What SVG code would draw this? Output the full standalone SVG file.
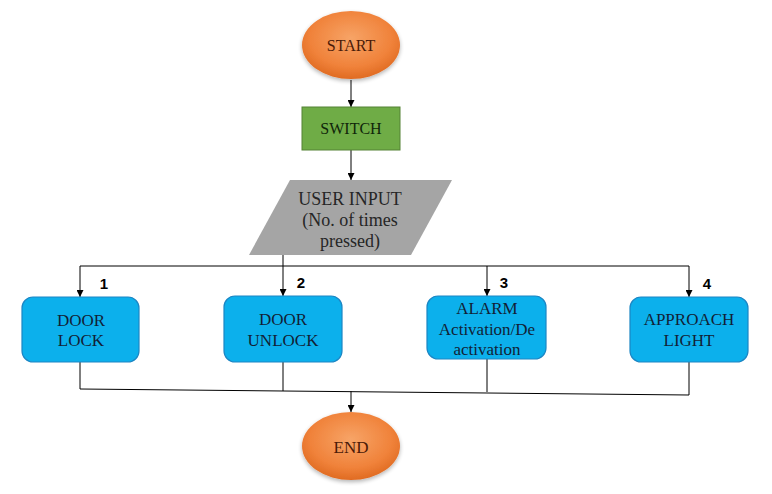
<svg xmlns="http://www.w3.org/2000/svg" width="772" height="494" viewBox="0 0 772 494">
<defs>
<radialGradient id="og" cx="50%" cy="40%" r="60%">
<stop offset="0%" stop-color="#f7a467"/>
<stop offset="70%" stop-color="#f0823a"/>
<stop offset="100%" stop-color="#e06b22"/>
</radialGradient>
<filter id="sh" x="-20%" y="-20%" width="140%" height="150%">
<feGaussianBlur in="SourceAlpha" stdDeviation="2"/>
<feOffset dx="0" dy="2" result="b"/>
<feComponentTransfer><feFuncA type="linear" slope="0.3"/></feComponentTransfer>
<feMerge><feMergeNode/><feMergeNode in="SourceGraphic"/></feMerge>
</filter>
<marker id="ah" viewBox="0 0 10 10" refX="10" refY="5" markerWidth="7" markerHeight="7" markerUnits="userSpaceOnUse" orient="auto">
<path d="M0,0 L10,5 L0,10 z" fill="#000"/>
</marker>
</defs>
<style>
.t{font-family:"Liberation Serif","Times New Roman",serif;text-anchor:middle;}
.box{fill:#0cb0ec;stroke:#1c86c4;stroke-width:1.2;}
.bt{font-size:17px;fill:#121f36;}
.num{font-family:"Liberation Sans",Arial,sans-serif;font-weight:bold;font-size:15px;fill:#000;text-anchor:middle;}
.ln{fill:none;stroke:#000;stroke-width:1;}
.ar{fill:none;stroke:#000;stroke-width:1;marker-end:url(#ah);}
</style>
<rect width="772" height="494" fill="#fff"/>
<g id="connectors">
<line class="ar" x1="351" y1="80" x2="351" y2="107"/>
<line class="ar" x1="351" y1="150" x2="351" y2="180"/>
<line class="ln" x1="80" y1="266" x2="689" y2="266" stroke="#555"/>
<line class="ar" x1="80" y1="266" x2="80" y2="297"/>
<line class="ar" x1="283" y1="255" x2="283" y2="296"/>
<line class="ar" x1="487" y1="266" x2="487" y2="296"/>
<line class="ar" x1="689" y1="266" x2="689" y2="297"/>
<line class="ln" x1="80" y1="362" x2="80" y2="389"/>
<line class="ln" x1="283" y1="362" x2="283" y2="391"/>
<line class="ln" x1="487" y1="359" x2="487" y2="392"/>
<line class="ln" x1="689" y1="362" x2="689" y2="395"/>
<line class="ln" x1="80" y1="389" x2="689" y2="395" stroke="#444"/>
<line class="ar" x1="351" y1="391" x2="351" y2="412"/>
<text class="num" x="104" y="289">1</text>
<text class="num" x="301" y="288">2</text>
<text class="num" x="504" y="288">3</text>
<text class="num" x="707" y="289">4</text>
</g>
<g id="start">
<ellipse cx="351" cy="45" rx="49" ry="34" fill="url(#og)" filter="url(#sh)"/>
<text class="t" x="351" y="51" font-size="16" fill="#4a1a08">START</text>
</g>
<g id="switch">
<rect x="302" y="107" width="98" height="43" fill="#6fac46" stroke="#548235" stroke-width="1"/>
<text class="t" x="351" y="134" font-size="16" fill="#10260a">SWITCH</text>
</g>
<g id="user-input">
<polygon points="290,180 452,180 411,255 249,255" fill="#a5a5a5"/>
<text class="t" x="350" y="205" font-size="18" fill="#262626">USER INPUT</text>
<text class="t" x="350" y="226" font-size="18" fill="#262626">(No. of times</text>
<text class="t" x="350" y="247" font-size="18" fill="#262626">pressed)</text>
</g>
<g id="door-lock">
<rect class="box" x="22" y="297" width="117" height="65" rx="11"/>
<text class="t bt" x="81" y="326">DOOR</text>
<text class="t bt" x="81" y="346">LOCK</text>
</g>
<g id="door-unlock">
<rect class="box" x="224" y="296" width="118" height="66" rx="11"/>
<text class="t bt" x="283" y="325">DOOR</text>
<text class="t bt" x="283" y="346">UNLOCK</text>
</g>
<g id="alarm">
<rect class="box" x="427" y="296" width="119" height="63" rx="11"/>
<text class="t bt" x="487" y="314">ALARM</text>
<text class="t bt" x="487" y="335">Activation/De</text>
<text class="t bt" x="487" y="355">activation</text>
</g>
<g id="approach-light">
<rect class="box" x="630" y="297" width="118" height="65" rx="11"/>
<text class="t bt" x="689" y="325">APPROACH</text>
<text class="t bt" x="689" y="346">LIGHT</text>
</g>
<g id="end">
<ellipse cx="351" cy="446" rx="49" ry="34" fill="url(#og)" filter="url(#sh)"/>
<text class="t" x="351" y="453" font-size="17" fill="#4a1a08">END</text>
</g>
</svg>
